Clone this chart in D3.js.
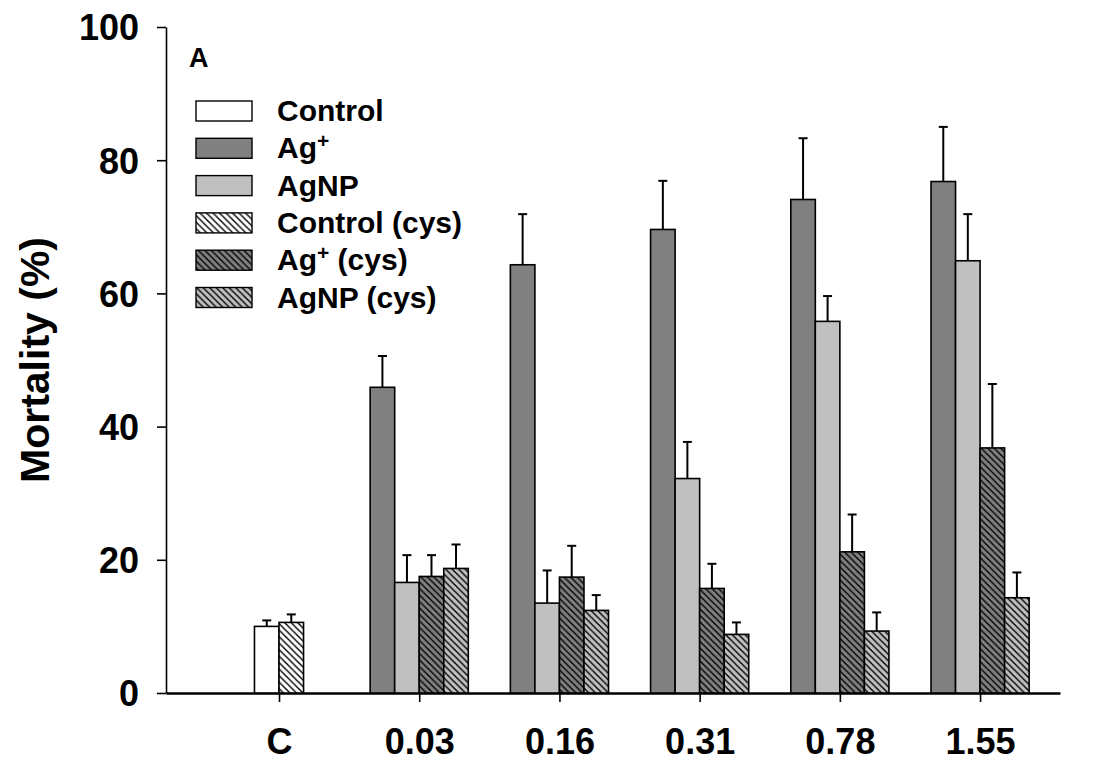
<!DOCTYPE html>
<html>
<head>
<meta charset="utf-8">
<script src="https://cdn.jsdelivr.net/npm/d3@7/dist/d3.min.js"></script>
<style>
  html, body { margin: 0; padding: 0; background: #fff; }
  svg { display: block; font-family: "Liberation Sans", Arial, Helvetica, sans-serif; font-weight: bold; }
</style>
</head>
<body>
<svg id="chart" width="1115" height="761"></svg>
<script>
// Concentration groups (x axis) and y ticks
const categories = ["C", "0.03", "0.16", "0.31", "0.78", "1.55"];
const yTicks = [0, 20, 40, 60, 80, 100];

// Series names as shown in the legend
const seriesNames = ["Control", "Ag+", "AgNP", "Control (cys)", "Ag+ (cys)", "AgNP (cys)"];

// Mean mortality (%) per group; null where the series is not measured
const controlMean    = [10.0, null, null, null, null, null];
const agMean         = [null, 45.9, 64.3, 69.6, 74.1, 76.8];
const agnpMean       = [null, 16.6, 13.5, 32.2, 55.8, 64.9];
const controlCysMean = [10.6, null, null, null, null, null];
const agCysMean      = [null, 17.5, 17.4, 15.7, 21.2, 36.8];
const agnpCysMean    = [null, 18.7, 12.4, 8.8, 9.3, 14.3];

// Upper error (SD) per group
const controlErr    = [0.9, null, null, null, null, null];
const agErr         = [null, 4.7, 7.6, 7.3, 9.2, 8.2];
const agnpErr       = [null, 4.1, 4.9, 5.5, 3.8, 7.0];
const controlCysErr = [1.2, null, null, null, null, null];
const agCysErr      = [null, 3.2, 4.7, 3.7, 5.6, 9.6];
const agnpCysErr    = [null, 3.6, 2.3, 1.8, 2.8, 3.8];

const seriesMeans = [controlMean, agMean, agnpMean, controlCysMean, agCysMean, agnpCysMean];
const seriesErrs  = [controlErr, agErr, agnpErr, controlCysErr, agCysErr, agnpCysErr];

// Styling per series
const fills   = ["#ffffff", "#808080", "#c0c0c0", "#ffffff", "#808080", "#c0c0c0"];
const hatched = [false, false, false, true, true, true];

const svg = d3.select("#chart");
const defs = svg.append("defs");

// Diagonal hatch patterns ("\" direction) over each base colour
fills.forEach((f, i) => {
  if (!hatched[i]) return;
  const s = 6.5;
  const p = defs.append("pattern")
    .attr("id", "hatch" + i)
    .attr("patternUnits", "userSpaceOnUse")
    .attr("width", s).attr("height", s);
  p.append("rect").attr("width", s).attr("height", s).attr("fill", f);
  p.append("path")
    .attr("d", `M0,0L${s},${s}M${-s/2},${s/2}L${s/2},${s*1.5}M${s/2},${-s/2}L${s*1.5},${s/2}`)
    .attr("stroke", "#000").attr("stroke-width", 1.4).attr("fill", "none");
});
const fillOf = i => hatched[i] ? `url(#hatch${i})` : fills[i];

// Scales
const x = d3.scaleLinear().domain([-0.806, 5.57]).range([166, 1060]);
const y = d3.scaleLinear().domain([0, 100]).range([693, 27]);
const step = x(1) - x(0);
const barW = step * 0.175;

// Axes
const yAxis = svg.append("g")
  .attr("transform", `translate(${x.range()[0]},0)`)
  .call(d3.axisLeft(y).tickValues(yTicks).tickSize(9).tickSizeOuter(0).tickPadding(18));
yAxis.selectAll("text").style("font-size", "36px").style("font-weight", "bold").attr("fill", "#000").attr("dy", "0.36em");
yAxis.selectAll("line, path").attr("stroke", "#000").attr("stroke-width", 1.6);

const xAxis = svg.append("g")
  .attr("transform", `translate(0,${y(0)})`)
  .call(d3.axisBottom(x).tickValues(d3.range(categories.length))
        .tickFormat(i => categories[i]).tickSize(9).tickSizeOuter(0).tickPadding(26));
xAxis.selectAll("text").style("font-size", "36px").style("font-weight", "bold").attr("fill", "#000");
xAxis.selectAll("line").attr("stroke", "#000").attr("stroke-width", 1.6);
xAxis.select("path.domain").attr("stroke", "#000").attr("stroke-width", 2.4);

// Bars and error bars
const bars = svg.append("g");
categories.forEach((c, gi) => {
  const present = seriesNames.map((_, si) => si).filter(si => seriesMeans[si][gi] != null);
  const inner = d3.scaleBand().domain(present)
    .range([x(gi) - present.length * barW / 2, x(gi) + present.length * barW / 2]);
  present.forEach(si => {
    const v = seriesMeans[si][gi];
    const e = seriesErrs[si][gi];
    const bx = inner(si);
    const cx = bx + inner.bandwidth() / 2;
    // error bar (upper only)
    bars.append("line")
      .attr("x1", cx).attr("x2", cx).attr("y1", y(v)).attr("y2", y(v + e))
      .attr("stroke", "#000").attr("stroke-width", 2);
    bars.append("line")
      .attr("x1", cx - 4.5).attr("x2", cx + 4.5).attr("y1", y(v + e)).attr("y2", y(v + e))
      .attr("stroke", "#000").attr("stroke-width", 2);
    bars.append("rect")
      .attr("x", bx).attr("y", y(v))
      .attr("width", inner.bandwidth()).attr("height", y(0) - y(v))
      .attr("fill", fillOf(si)).attr("stroke", "#000").attr("stroke-width", 1.6);
  });
});

// Y axis title
svg.append("text")
  .attr("transform", `translate(49,360) rotate(-90)`)
  .attr("text-anchor", "middle")
  .style("font-size", "41px")
  .text("Mortality (%)");

// Panel letter
svg.append("text").attr("x", 189).attr("y", 67).style("font-size", "27px").text("A");

// Legend
const legend = svg.append("g");
seriesNames.forEach((name, i) => {
  const ly = 101 + i * 37.3;
  legend.append("rect")
    .attr("x", 196).attr("y", ly).attr("width", 56).attr("height", 20)
    .attr("fill", fillOf(i)).attr("stroke", "#000").attr("stroke-width", 1.4);
  const t = legend.append("text").attr("x", 277).attr("y", ly + 20).style("font-size", "30px");
  if (name.startsWith("Ag+")) {
    t.append("tspan").text("Ag");
    t.append("tspan").text("+").style("font-size", "21px").attr("dy", -10);
    t.append("tspan").text(name.slice(3)).attr("dy", 10);
  } else {
    t.text(name);
  }
});
</script>
</body>
</html>
